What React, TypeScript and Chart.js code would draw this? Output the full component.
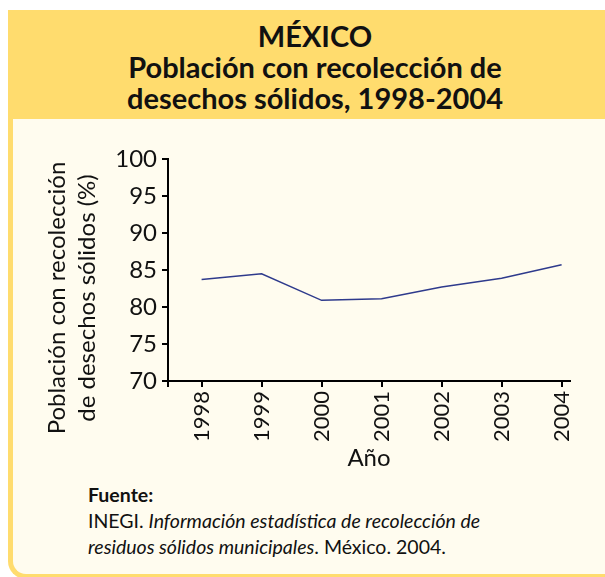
import React, { useEffect, useRef } from "react";
import { Chart, registerables } from "chart.js";

Chart.register(...registerables);

const years = [1998, 1999, 2000, 2001, 2002, 2003, 2004];
const coverage = [83.7, 84.5, 80.9, 81.1, 82.7, 83.9, 85.7];
const yTitleLines = ["Población con recolección", "de desechos sólidos (%)"];
const xTitle = "Año";

const FONT = "Lato, 'Open Sans', sans-serif";
const YELLOW = "#FFDC6E";
const CREAM = "#FFFCEF";

const yTitlePlugin = {
  id: "yTitle",
  afterDraw(chart: any) {
    const { ctx, chartArea } = chart;
    const cy = (chartArea.top + chartArea.bottom) / 2 + 28;
    ctx.save();
    ctx.fillStyle = "#111";
    ctx.font = `24px ${FONT}`;
    ctx.textAlign = "center";
    ctx.textBaseline = "middle";
    const xs = [44, 74];
    yTitleLines.forEach((line, i) => {
      ctx.save();
      ctx.translate(xs[i], cy);
      ctx.rotate(-Math.PI / 2);
      ctx.fillText(line, 0, 0);
      ctx.restore();
    });
    ctx.restore();
  },
};

function LineChart() {
  const ref = useRef<HTMLCanvasElement | null>(null);
  useEffect(() => {
    if (!ref.current) return;
    const axisCommon = {
      grid: {
        display: true,
        drawOnChartArea: false,
        drawTicks: true,
        tickLength: 6,
        color: "#000",
        lineWidth: 2,
      },
      border: { display: true, color: "#000", width: 2 },
    };
    const chart = new Chart(ref.current, {
      type: "line",
      data: {
        datasets: [
          {
            data: years.map((y, i) => ({ x: y, y: coverage[i] })),
            borderColor: "#2E3A8C",
            borderWidth: 1.5,
            pointRadius: 0,
            tension: 0,
            fill: false,
          },
        ],
      },
      options: {
        animation: false,
        responsive: false,
        layout: { padding: { top: 29, right: 35, left: 0, bottom: 0 } },
        plugins: { legend: { display: false }, tooltip: { enabled: false } },
        scales: {
          x: {
            type: "linear",
            min: 1997.44,
            max: 2004.14,
            ...axisCommon,
            afterBuildTicks: (s: any) => {
              s.ticks = [{ value: s.min }, ...years.map((v) => ({ value: v }))];
            },
            afterFit: (s: any) => {
              s.height = 96;
            },
            ticks: {
              autoSkip: false,
              minRotation: 90,
              maxRotation: 90,
              padding: 4,
              color: "#111",
              font: { family: FONT, size: 22 },
              callback: (v: any) => (years.includes(v) ? String(v) : ""),
            },
            title: {
              display: true,
              text: xTitle,
              color: "#111",
              font: { family: FONT, size: 24 },
              padding: { top: 0, bottom: 4 },
            },
          },
          y: {
            type: "linear",
            min: 70,
            max: 100,
            ...axisCommon,
            afterFit: (s: any) => {
              s.width = 155;
            },
            ticks: {
              stepSize: 5,
              padding: 5,
              color: "#111",
              font: { family: FONT, size: 24 },
            },
          },
        },
      } as any,
      plugins: [yTitlePlugin],
    });
    return () => chart.destroy();
  }, []);
  return <canvas ref={ref} width={592} height={347} style={{ width: 592, height: 347, display: "block" }} />;
}

export default function App() {
  return (
    <div
      style={{
        position: "fixed",
        left: 8,
        top: 10,
        width: 614,
        height: 569,
        fontFamily: FONT,
        color: "#111",
      }}
    >
      <div
        style={{
          position: "absolute",
          left: 0,
          top: 0,
          width: 614,
          height: 109,
          background: YELLOW,
          textAlign: "center",
          fontWeight: 700,
          fontSize: 29,
          lineHeight: "31px",
          paddingTop: 10,
          boxSizing: "border-box",
        }}
      >
        <div>MÉXICO</div>
        <div>Población con recolección de</div>
        <div>desechos sólidos, 1998-2004</div>
      </div>
      <div
        style={{
          position: "absolute",
          left: 0,
          top: 109,
          width: 614,
          height: 460,
          background: CREAM,
          borderLeft: `5px solid ${YELLOW}`,
          borderBottom: `5px solid ${YELLOW}`,
          borderBottomLeftRadius: 18,
          boxSizing: "border-box",
        }}
      >
        <div style={{ position: "absolute", left: 0, top: 11 }}>
          <LineChart />
        </div>
        <div
          style={{
            position: "absolute",
            left: 75,
            top: 363,
            fontSize: 19.5,
            lineHeight: "26px",
          }}
        >
          <div style={{ fontWeight: 700 }}>Fuente:</div>
          <div>
            INEGI. <i>Información estadística de recolección de</i>
          </div>
          <div>
            <i>residuos sólidos municipales</i>. México. 2004.
          </div>
        </div>
      </div>
    </div>
  );
}
